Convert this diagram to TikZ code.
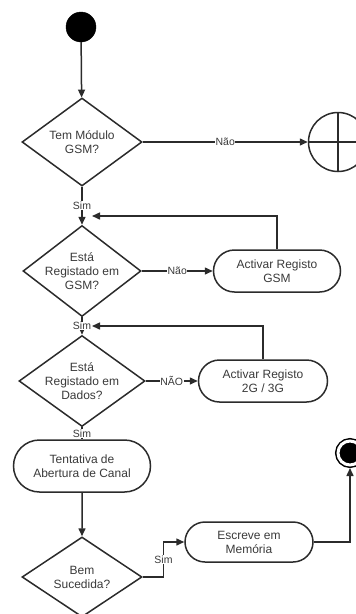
\documentclass[tikz,border=0pt]{standalone}
\usepackage{fontspec}
\setmainfont{Liberation Sans}
\usepackage{xcolor}
\usetikzlibrary{shapes.geometric, shapes.misc, arrows.meta, positioning, calc}
\definecolor{LineGrey}{HTML}{2B2B2B}
\definecolor{TextGrey}{HTML}{3A3A3A}

\begin{document}
\begin{tikzpicture}[
    x=1pt, y=-1pt,
    font=\fontsize{12}{14}\selectfont, text=TextGrey,
    decision/.style={draw=LineGrey, diamond, line width=1.5pt, align=center, inner sep=-5pt},
    activity/.style={draw=LineGrey, rounded rectangle, line width=1.5pt, align=center, inner sep=2pt},
    startnode/.style={circle, fill=black, draw=black, minimum size=30pt, inner sep=0pt},
    flowend/.style={circle, draw=LineGrey, line width=1.5pt, minimum size=59pt, inner sep=0pt},
    endnode/.style={circle, fill=black, draw=black, line width=1.5pt, double=white, double distance=3pt,
                    minimum size=24pt, inner sep=0pt, outer sep=3pt},
    arrow/.style={-{Triangle[length=8pt, width=7pt]}, line width=1.5pt, draw=LineGrey},
    link/.style={line width=1.5pt, draw=LineGrey},
    lbl/.style={fill=white, inner sep=0.5pt, font=\fontsize{10.5}{12}\selectfont}
  ]
    \useasboundingbox (0,0) rectangle (356,614);
    \clip (0,0) rectangle (356,614);

    % Start
    \node[startnode] (start) at (81,27) {};

    % GSM module
    \node[decision, minimum width=120pt, minimum height=88pt] (gsm) at (82,142) {Tem Módulo\\GSM?};
    \node[flowend] (flow) at (338,142) {};
    \draw[link] (flow.north) -- (flow.south) (flow.west) -- (flow.east);

    % GSM registration
    \node[decision, minimum width=118pt, minimum height=79pt] (reg) at (82,271) {Está\\Registado em\\GSM?};
    \node[activity, minimum width=131pt, minimum height=42pt] (actgsm) at (277,271) {Activar Registo\\GSM};

    % Data registration
    \node[decision, minimum width=126pt, minimum height=86pt] (dados) at (82,381) {Está\\Registado em\\Dados?};
    \node[activity, minimum width=133pt, minimum height=42pt] (actdados) at (263,381) {Activar Registo\\2G / 3G};

    % Channel
    \node[activity, minimum width=141pt, minimum height=52pt] (canal) at (82,466) {Tentativa de\\Abertura de Canal};
    \node[decision, minimum width=120pt, minimum height=80pt] (bem) at (82,577) {Bem\\Sucedida?};
    \node[activity, minimum width=132pt, minimum height=40pt] (escreve) at (249,542) {Escreve em\\Memória};

    % End
    \node[endnode] (fim) at (350,453) {};

    % Arrows
    \coordinate (back1) at (92,216);
    \coordinate (back2) at (92,326);
    \draw[arrow] (start) -- (gsm);
    \draw[arrow] (gsm) -- node[lbl] {Não} (flow);
    \draw[arrow] (gsm) -- node[lbl] {Sim} (reg);
    \draw[arrow] (actgsm.north) |- (back1);
    \draw[arrow] (reg) -- node[lbl] {Não} (actgsm);
    \draw[arrow] (reg) -- node[lbl] {Sim} (dados);
    \draw[arrow] (actdados.north) |- (back2);
    \draw[arrow] (dados) -- node[lbl] {NÃO} (actdados);
    \draw[link] (dados) -- node[lbl] {Sim} (canal);
    \draw[arrow] (canal) -- (bem);
    \draw[arrow] (bem.east) -| ($(bem.east)!0.5!(escreve.west)$) node[lbl] {Sim} |- (escreve.west);
    \draw[arrow] (escreve.east) -| (fim.south);

  \end{tikzpicture}
\end{document}
